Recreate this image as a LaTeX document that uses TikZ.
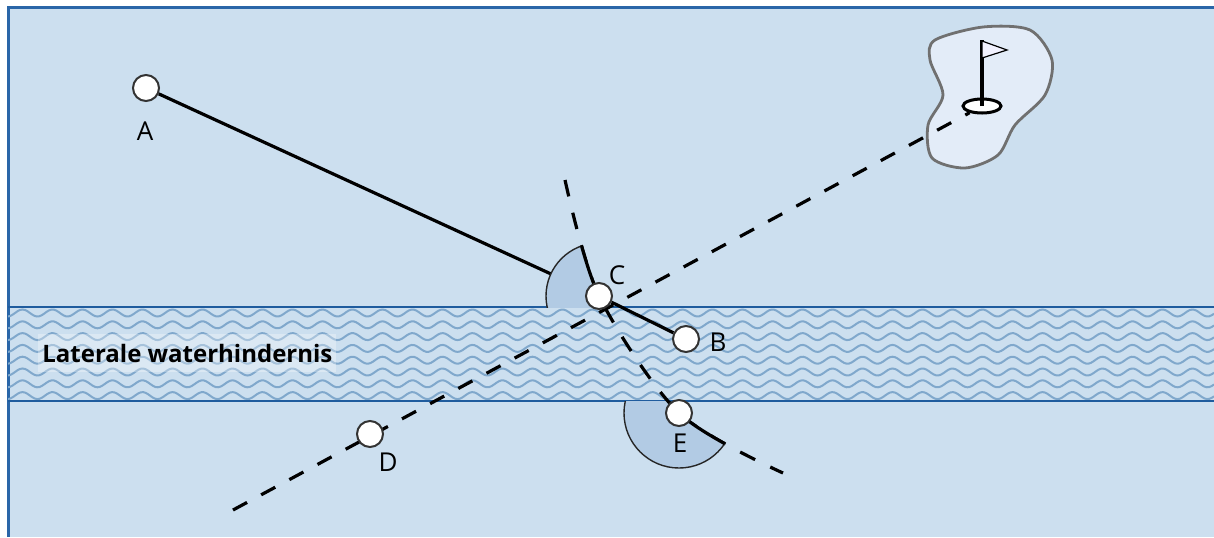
\documentclass[tikz,border=0pt]{standalone}
\usepackage{fontspec}
\setmainfont{Open Sans}
\usepackage{tikz}
\usetikzlibrary{shapes.geometric,backgrounds}
\definecolor{fieldblue}{HTML}{CCDFEF}
\definecolor{frameblue}{HTML}{2A66A8}
\definecolor{hazardline}{HTML}{1F5C9E}
\definecolor{waveblue}{HTML}{80A8CC}
\definecolor{dropzone}{HTML}{B2CBE4}
\definecolor{greenfill}{HTML}{E3ECF8}
\definecolor{greenline}{HTML}{707070}
\tikzstyle{ball} = [circle, draw=black!80, fill=white, line width=1pt, inner sep=0pt, minimum size=13pt]
\tikzstyle{ball_label} = [inner sep=0pt, font=\fontsize{13}{15}\selectfont]
\tikzstyle{cup} = [ellipse, draw, fill=white, line width=1.5pt, inner sep=0pt, minimum width=19pt, minimum height=7pt]
\tikzstyle{line_play} = [line width=1.6pt]
\tikzstyle{line_ref} = [line width=1.6pt, dash pattern=on 8pt off 8pt]
\tikzstyle{line_arc} = [line width=1.6pt, dash pattern=on 8.4pt off 8.4pt]
\tikzstyle{drop_zone} = [fill=dropzone, draw=black!85, line width=0.7pt]
\tikzstyle{frame_edge} = [draw=frameblue, line width=1.5pt]
\tikzstyle{hazard_edge} = [draw=hazardline, line width=1.3pt]
\tikzstyle{wave_line} = [draw=waveblue, line width=1pt]
\tikzstyle{green_area} = [fill=greenfill, draw=greenline, line width=1.4pt]
\tikzstyle{flag} = [fill=white!95!blue, draw, line width=0.6pt]
\tikzstyle{hazard_label} = [anchor=west, fill=white, fill opacity=0.3, text opacity=1, inner xsep=2pt, inner ysep=5pt, font=\bfseries\fontsize{12}{14}\selectfont]

\begin{document}
\begin{tikzpicture}[x=0.5pt, y=-0.5pt]
			\useasboundingbox (0,0) rectangle (1214,537);
			\node (A) at (146,88) [ball] {};
			\node (B) at (686,339) [ball] {};
			\node (C) at (599,296) [ball] {};
			\node (D) at (370,434) [ball] {};
			\node (E) at (679,413) [ball] {};
			\node (hole) at (982,106) [cup] {};
			\coordinate (flagTop) at (982,40);
			\coordinate (arcTop) at (565,180);
			\coordinate (arcBot) at (783,473);
			\coordinate (lineStart) at (233,510);
			
			\node (labA) at (145,131) [ball_label] {A};
			\node (labB) at (718,342) [ball_label] {B};
			\node (labC) at (617,275) [ball_label] {C};
			\node (labD) at (388,462) [ball_label] {D};
			\node (labE) at (680,443) [ball_label] {E};
			
			\draw[line_play] (hole.center) -- (flagTop);
			\filldraw[flag] (982,41) -- (1007,50) -- (982,58) -- cycle;
			
			\begin{scope}[on background layer]
				\fill[fieldblue] (8,7) rectangle (1214,537);
				\draw[frame_edge] (1214,7) -- (8,7) -- (8,537);
				% water hazard
				\begin{scope}
					\clip (8,307) rectangle (1214,401);
					\foreach \row in {0,...,7}
						\draw[wave_line] plot[domain=8:1214, samples=500] (\x, {313+11.8*\row+3.5*sin(12*\x)});
				\end{scope}
				\draw[hazard_edge] (8,307) -- (1214,307) (8,401) -- (1214,401);
				\node (hazardLabel) at (38,353) [hazard_label] {Laterale waterhindernis};
				% green
				\filldraw[green_area] plot[smooth cycle] coordinates {(935,40) (983,27) (1030,30) (1052,60) (1045,95) (1015,125) (998,155) (965,168) (932,158) (928,125) (943,95) (930,60)};
				% lines
				\draw[line_ref] (lineStart) -- (hole);
				\draw[line_arc] plot[smooth] coordinates {(arcTop) (C.center) (E.center) (arcBot)};
				\draw[line_play] (A) -- (C) -- (B);
				% drop zones
				\foreach \ball/\rad/\ya/\yb in {C/26.5pt/0/307, E/27.5pt/401/600} {
					\begin{scope}
						\clip (0,\ya) rectangle (1214,\yb);
						\begin{scope}
							\clip plot[smooth] coordinates {(arcTop) (C.center) (E.center) (arcBot)} -- (783,600) -- (0,600) -- (0,0) -- (565,0) -- cycle;
							\filldraw[drop_zone] (\ball.center) circle[radius=\rad];
						\end{scope}
						\clip (\ball.center) circle[radius=\rad];
						\draw[line_play] plot[smooth] coordinates {(arcTop) (C.center) (E.center) (arcBot)};
					\end{scope}
				}
			\end{scope}
\end{tikzpicture}
\end{document}
